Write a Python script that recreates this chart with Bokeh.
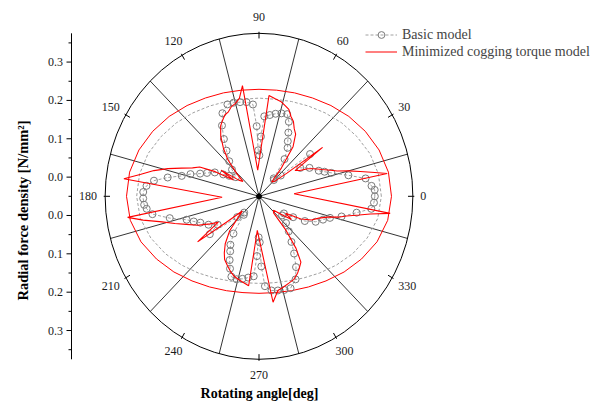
import numpy as np
from bokeh.plotting import figure
from bokeh.models import Range1d, Legend, LegendItem
from bokeh.embed import file_html
from bokeh.resources import INLINE

# Radial scale of the polar chart (N/mm^2): value at the pole and at the outer circle
R_POLE = -0.05
R_EDGE = 0.375

# ---------------- data ----------------
# Minimized cogging torque model: rotating angle (deg) and radial force density (N/mm^2)
min_deg = [4, 9.5, 11, 13, 15, 17, 19, 22, 25, 28, 31, 34, 36, 38, 42, 47, 50, 54, 58, 61,
           64, 67, 70, 73, 76, 80, 84, 93, 99, 102, 105, 108, 111, 114, 117, 120, 124, 128,
           132, 136, 139, 143, 147, 149, 152, 155, 158, 161, 164, 167, 170, 173, 181.5, 188.6,
           191, 194, 197, 200, 204, 208, 211, 215, 217, 219.5, 223, 228, 233, 237, 240, 244,
           248, 252, 256, 260, 263, 267, 278, 282, 286, 290, 294, 298, 301, 304, 307, 310,
           313, 318, 323, 326, 329, 333, 337, 341, 344, 346, 348, 350, 351.5, 353]
min_val = [0.047, 0.309, 0.276, 0.237, 0.206, 0.176, 0.159, 0.137, 0.120, 0.103, 0.081, 0.070,
           0.167, 0.048, 0.009, 0.001, 0.046, 0.110, 0.141, 0.151, 0.167, 0.176, 0.191, 0.197,
           0.204, 0.208, 0.214, 0.018, 0.242, 0.211, 0.201, 0.196, 0.186, 0.182, 0.172, 0.162,
           0.139, 0.110, 0.079, 0.036, 0.009, 0.020, 0.075, 0.032, 0.087, 0.131, 0.148, 0.176,
           0.212, 0.248, 0.281, 0.326, 0.052, 0.317, 0.276, 0.226, 0.193, 0.164, 0.136, 0.103,
           0.081, 0.157, 0.059, 0.010, 0.025, 0.071, 0.105, 0.126, 0.140, 0.150, 0.161, 0.170,
           0.175, 0.180, 0.185, 0.039, 0.229, 0.201, 0.196, 0.191, 0.187, 0.177, 0.167, 0.157,
           0.120, 0.067, 0.009, 0.004, 0.031, 0.058, 0.036, 0.080, 0.108, 0.125, 0.147, 0.175,
           0.197, 0.231, 0.261, 0.315]

# Basic model
basic_deg = [0, 3, 5, 9, 12.5, 17, 19.5, 22, 28, 33, 38, 42, 46, 49, 54, 58, 61, 64, 67, 70,
             74, 78, 82, 86, 88, 89.5, 91, 92, 94, 98, 102, 106, 110, 115, 119, 123, 127, 132,
             137, 142, 147, 150, 153, 157, 160, 163, 166, 169, 172, 175, 178, 181, 184, 186,
             189, 193, 197, 200, 203, 208, 213, 216, 222, 226, 229, 234, 238, 241, 244, 247,
             250, 254, 258, 262, 266, 268, 269.5, 271, 272, 274, 278, 282, 286, 290, 295, 299,
             303, 307, 312, 317, 322, 327, 330, 333, 337, 341, 344, 347, 351, 354, 357]
basic_val = [0.270, 0.270, 0.262, 0.248, 0.203, 0.159, 0.142, 0.128, 0.108, 0.086, 0.129, 0.031,
             0.009, 0.012, 0.070, 0.099, 0.114, 0.135, 0.161, 0.178, 0.175, 0.170, 0.164, 0.159,
             0.106, 0.057, 0.070, 0.133, 0.190, 0.198, 0.201, 0.204, 0.205, 0.189, 0.161, 0.128,
             0.099, 0.073, 0.052, 0.031, 0.048, 0.064, 0.087, 0.106, 0.123, 0.148, 0.170, 0.207,
             0.243, 0.262, 0.270, 0.270, 0.268, 0.262, 0.248, 0.203, 0.159, 0.142, 0.126, 0.108,
             0.086, 0.118, 0.031, 0.009, 0.014, 0.070, 0.099, 0.114, 0.135, 0.155, 0.173, 0.175,
             0.170, 0.164, 0.159, 0.106, 0.057, 0.070, 0.133, 0.185, 0.198, 0.201, 0.204, 0.205,
             0.189, 0.161, 0.128, 0.099, 0.073, 0.052, 0.031, 0.032, 0.059, 0.092, 0.120, 0.137,
             0.154, 0.184, 0.223, 0.262, 0.268]

# Envelope rings of the two models
ring_deg = [0, 10, 20, 30, 40, 50, 60, 70, 80, 90, 100, 110, 120, 130, 140, 150, 160, 170,
            180, 190, 200, 210, 220, 230, 240, 250, 260, 270, 280, 290, 300, 310, 320, 330,
            340, 350]
min_ring_val = [0.316, 0.313, 0.303, 0.289, 0.274, 0.259, 0.246, 0.237, 0.231, 0.229, 0.231,
                0.237, 0.246, 0.259, 0.274, 0.289, 0.303, 0.313, 0.316, 0.311, 0.297, 0.277,
                0.257, 0.238, 0.223, 0.212, 0.205, 0.203, 0.205, 0.212, 0.223, 0.238, 0.257,
                0.277, 0.297, 0.311]
basic_ring_val = [0.288, 0.285, 0.276, 0.262, 0.248, 0.234, 0.222, 0.213, 0.207, 0.206, 0.207,
                  0.213, 0.222, 0.234, 0.248, 0.262, 0.276, 0.285, 0.288, 0.283, 0.268, 0.249,
                  0.229, 0.211, 0.196, 0.185, 0.179, 0.177, 0.179, 0.185, 0.196, 0.211, 0.229,
                  0.249, 0.268, 0.283]

# Axis ticks
radial_major = [0.0, 0.1, 0.2, 0.3]
radial_minor = [0.05, 0.15, 0.25, 0.35]
angle_ticks = [0, 30, 60, 90, 120, 150, 180, 210, 240, 270, 300, 330]
spoke_deg = [15, 45, 75, 105, 135, 165, 195, 225, 255, 285, 315, 345]

# ---------------- canvas geometry (pixels) ----------------
W, H = 604, 404
CX, CY = 258.5, 195.8      # pole
SX, SY = 362.0, 383.5      # pixels per radial unit (horizontal / vertical)
D_EDGE = R_EDGE - R_POLE


def px_x(X):
    return (X - CX) / SX


def px_y(Y):
    return (CY - Y) / SY


def polar(deg, val):
    t = np.radians(np.asarray(deg, dtype=float))
    d = np.asarray(val, dtype=float) - R_POLE
    return d * np.cos(t), d * np.sin(t)


def closed(a):
    a = list(a)
    return a + a[:1]


p = figure(width=W, height=H, output_backend="svg", toolbar_location=None,
           x_range=Range1d(px_x(0), px_x(W)), y_range=Range1d(px_y(H), px_y(0)),
           min_border=0, outline_line_color=None,
           x_axis_location=None, y_axis_location=None)
p.grid.visible = False
p.background_fill_color = "white"
p.border_fill_color = "white"

SERIF = "Liberation Serif"
SANS = "Liberation Sans"
INK = "#1a1a1a"

# outer circle, spokes, angular ticks
p.ellipse(x=0, y=0, width=2 * D_EDGE, height=2 * D_EDGE, fill_alpha=0,
          line_color="black", line_width=1)
sx1, sy1 = polar(spoke_deg, [R_EDGE] * len(spoke_deg))
p.segment(x0=0, y0=0, x1=sx1, y1=sy1, line_color="black", line_width=0.8)

t = np.radians(angle_ticks)
d_in = D_EDGE - 5.0 / 372
d_out = D_EDGE + 1.5 / 372
p.segment(x0=d_in * np.cos(t), y0=d_in * np.sin(t), x1=d_out * np.cos(t), y1=d_out * np.sin(t),
          line_color="black", line_width=1)

lab_x, lab_y = [], []
for a in angle_ticks:
    ta = np.radians(a)
    hw = 3.4 * len(str(a))
    lab_x.append((D_EDGE * SX * np.cos(ta) + np.cos(ta) * (7 + hw)) / SX)
    lab_y.append((D_EDGE * SY * np.sin(ta) + np.sin(ta) * 16) / SY)
p.text(x=lab_x, y=lab_y, text=[str(a) for a in angle_ticks], text_font=SANS,
       text_font_size="12px", text_color=INK, text_align="center",
       text_baseline="middle")

# radial axis on the left (mirrored above and below the pole)
AX = px_x(71)
p.segment(x0=[AX], y0=[-D_EDGE], x1=[AX], y1=[D_EDGE], line_color="black", line_width=1)
maj_y = [s * (v - R_POLE) for v in radial_major for s in (1, -1)]
min_y = [s * (v - R_POLE) for v in radial_minor for s in (1, -1)] + [0.0]
p.segment(x0=[px_x(66)] * len(maj_y), y0=maj_y, x1=[AX] * len(maj_y), y1=maj_y,
          line_color="black", line_width=1)
p.segment(x0=[px_x(68)] * len(min_y), y0=min_y, x1=[AX] * len(min_y), y1=min_y,
          line_color="black", line_width=1)
p.text(x=[px_x(62.5)] * len(maj_y), y=maj_y,
       text=["%.1f" % v for v in radial_major for _ in (1, -1)],
       text_font=SANS, text_font_size="12px", text_color=INK,
       text_align="right", text_baseline="middle")

p.text(x=[px_x(22)], y=[px_y(210)], text=["Radial force density [N/mm\u00b2]"], angle=np.pi / 2,
       text_font=SERIF, text_font_style="bold", text_font_size="14.5px",
       text_align="center", text_baseline="middle", text_color="black")
p.text(x=[px_x(259)], y=[px_y(393)], text=["Rotating angle[deg]"],
       text_font=SERIF, text_font_style="bold", text_font_size="14px",
       text_align="center", text_baseline="middle", text_color="black")

# envelope rings
gx, gy = polar(closed(ring_deg), closed(basic_ring_val))
p.line(gx, gy, line_color="#a0a0a0", line_width=1, line_dash="3 2")
rx, ry = polar(closed(ring_deg), closed(min_ring_val))
p.line(rx, ry, line_color="#ff0000", line_width=1)

# basic model
bx, by = polar(closed(basic_deg), closed(basic_val))
basic_line = p.line(bx, by, line_color="#a0a0a0", line_width=1, line_dash="3 2")
mx, my = polar(basic_deg, basic_val)
basic_marks = p.scatter(mx, my, marker="circle", size=7, line_color="#7a7a7a",
                        line_width=1, fill_color=None)

# minimized cogging torque model
cx_, cy_ = polar(closed(min_deg), closed(min_val))
min_line = p.line(cx_, cy_, line_color="#ff0000", line_width=1.1)

p.scatter([0], [0], marker="circle", size=5, fill_color="black", line_color="black")

legend = Legend(items=[LegendItem(label="Basic model", renderers=[basic_line, basic_marks]),
                       LegendItem(label="Minimized cogging torque model", renderers=[min_line])],
                location=(365, H - 60), orientation="vertical",
                glyph_width=32, glyph_height=17, label_height=17, label_standoff=5,
                spacing=0, padding=0, margin=0,
                label_text_font=SERIF, label_text_font_size="14px",
                border_line_color=None, background_fill_alpha=0)
p.add_layout(legend)

open("out.html", "w").write(file_html(p, INLINE))
